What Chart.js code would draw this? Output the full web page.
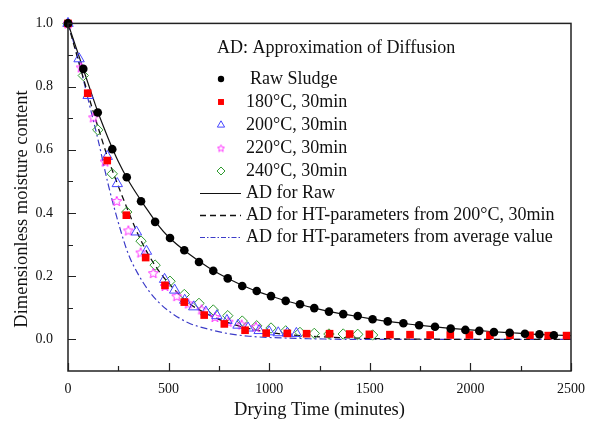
<!DOCTYPE html>
<html>
<head>
<meta charset="utf-8">
<script src="https://cdn.jsdelivr.net/npm/chart.js@4.4.1/dist/chart.umd.min.js"></script>
<style>
  html, body { margin: 0; padding: 0; background: #fff; }
  #wrap { width: 589px; height: 425px; }
</style>
</head>
<body>
<div id="wrap"><canvas id="dryChart"></canvas></div>
<script>
// Datos: tiempo de secado (min) y humedad adimensional
const rawTime = [0, 76, 148, 220, 292, 363, 433, 507, 578, 651, 722, 794, 866, 938, 1009, 1082, 1153, 1224, 1297, 1368, 1440, 1514, 1589, 1667, 1745, 1824, 1902, 1975, 2044, 2117, 2195, 2271, 2343, 2415];
const rawMoisture = [1.0, 0.856, 0.718, 0.602, 0.513, 0.437, 0.372, 0.321, 0.282, 0.245, 0.217, 0.193, 0.169, 0.153, 0.137, 0.122, 0.111, 0.099, 0.088, 0.080, 0.074, 0.064, 0.057, 0.051, 0.045, 0.040, 0.034, 0.030, 0.027, 0.023, 0.021, 0.018, 0.016, 0.013];

const time180 = [0, 98, 195, 290, 386, 482, 578, 677, 777, 880, 985, 1090, 1186, 1300, 1400, 1498, 1600, 1700, 1800, 1900, 1995, 2097, 2197, 2296, 2387, 2478];
const moisture180 = [1.0, 0.779, 0.566, 0.393, 0.259, 0.171, 0.118, 0.077, 0.049, 0.029, 0.020, 0.019, 0.018, 0.018, 0.017, 0.016, 0.015, 0.015, 0.014, 0.014, 0.014, 0.013, 0.013, 0.013, 0.012, 0.012];

const time200 = [0, 55, 100, 195, 245, 340, 390, 480, 530, 580, 625, 685, 740, 790, 845, 895, 950, 1000, 1045, 1090, 1135];
const moisture200 = [1.0, 0.888, 0.772, 0.579, 0.493, 0.340, 0.279, 0.190, 0.156, 0.124, 0.103, 0.087, 0.075, 0.060, 0.045, 0.036, 0.028, 0.024, 0.021, 0.020, 0.019];

const time220 = [0, 65, 126, 184, 242, 300, 361, 424, 482, 540, 598, 664, 730, 797, 863, 934];
const moisture220 = [1.0, 0.861, 0.703, 0.563, 0.438, 0.345, 0.275, 0.210, 0.169, 0.137, 0.114, 0.095, 0.071, 0.056, 0.047, 0.040];

const time240 = [0, 76, 148, 220, 292, 363, 433, 507, 578, 651, 722, 794, 866, 938, 1009, 1082, 1153, 1224, 1297, 1368, 1440, 1514];
const moisture240 = [1.0, 0.835, 0.663, 0.524, 0.403, 0.311, 0.235, 0.184, 0.142, 0.114, 0.093, 0.075, 0.058, 0.043, 0.036, 0.027, 0.022, 0.019, 0.017, 0.017, 0.016, 0.014];

// Curvas del modelo (AD)
const fitTime = [0, 50, 100, 150, 200, 250, 300, 350, 400, 450, 500, 600, 700, 800, 900, 1000, 1100, 1200, 1300, 1400, 1500, 1600, 1700, 1800, 1900, 2000, 2100, 2200, 2300, 2400, 2500];
const fitRaw = [1.0, 0.905, 0.81, 0.717, 0.636, 0.563, 0.503, 0.452, 0.405, 0.36, 0.324, 0.271, 0.227, 0.191, 0.162, 0.139, 0.119, 0.103, 0.088, 0.077, 0.066, 0.056, 0.048, 0.041, 0.035, 0.030, 0.025, 0.021, 0.017, 0.014, 0.012];
const fit200 = [1.0, 0.885, 0.775, 0.67, 0.571, 0.485, 0.405, 0.33, 0.268, 0.218, 0.178, 0.115, 0.078, 0.052, 0.034, 0.022, 0.015, 0.010, 0.007, 0.005, 0.003, 0.002, 0.001, 0.001, 0.0, 0.0, 0.0, 0.0, 0.0, 0.0, 0.0];
const fitAverage = [1.0, 0.89, 0.76, 0.63, 0.49, 0.37, 0.27, 0.205, 0.155, 0.118, 0.09, 0.052, 0.032, 0.018, 0.010, 0.006, 0.004, 0.002, 0.001, 0.0, 0.0, 0.0, 0.0, 0.0, 0.0, 0.0, 0.0, 0.0, 0.0, 0.0, 0.0];

const xTicks = [0, 500, 1000, 1500, 2000, 2500];
const yTicks = [0.0, 0.2, 0.4, 0.6, 0.8, 1.0];

const legendTitle = 'AD: Approximation of Diffusion';
const legendLabels = ['Raw Sludge', '180°C, 30min', '200°C, 30min', '220°C, 30min', '240°C, 30min',
  'AD for Raw', 'AD for HT-parameters from 200°C, 30min', 'AD for HT-parameters from average value'];

const serif = "'Liberation Serif', 'Times New Roman', serif";

function toPoints(xs, ys) {
  return xs.map((x, i) => ({ x: x, y: ys[i] }));
}

// estrella de 5 puntas hueca (Chart.js no la trae)
function starImage(size, color) {
  const c = document.createElement('canvas');
  c.width = size; c.height = size;
  const g = c.getContext('2d');
  const cx = size / 2, cy = size / 2 + 0.5, R = size / 2 - 0.8, r = R * 0.45;
  g.beginPath();
  for (let k = 0; k < 10; k++) {
    const a = -Math.PI / 2 + k * Math.PI / 5;
    const rr = k % 2 ? r : R;
    g.lineTo(cx + rr * Math.cos(a), cy + rr * Math.sin(a));
  }
  g.closePath();
  g.strokeStyle = color;
  g.lineWidth = 1;
  g.stroke();
  return c;
}

const RED = '#ff0000', BLUE = '#4646ff', MAGENTA = '#ff30ff', GREEN = '#2f9a2f', DASHDOT = '#3c3cc8';
const starBig = starImage(12, MAGENTA);
const starSmall = starImage(9, MAGENTA);

const datasets = [
  { data: toPoints(rawTime, rawMoisture), pointStyle: 'circle', pointRadius: 4.3,
    backgroundColor: '#000', borderColor: '#000', borderWidth: 0, clip: false },
  { data: toPoints(time180, moisture180), pointStyle: 'rect', pointRadius: 5.4,
    backgroundColor: RED, borderColor: RED, borderWidth: 0, clip: false },
  { data: toPoints(time200, moisture200), pointStyle: 'triangle', pointRadius: 6,
    backgroundColor: 'rgba(0,0,0,0)', borderColor: BLUE, borderWidth: 1, clip: false },
  { data: toPoints(time220, moisture220), pointStyle: starBig, pointRadius: 6,
    backgroundColor: 'rgba(0,0,0,0)', borderColor: MAGENTA, borderWidth: 1, clip: false },
  { data: toPoints(time240, moisture240), pointStyle: 'rectRot', pointRadius: 5.2,
    backgroundColor: 'rgba(0,0,0,0)', borderColor: GREEN, borderWidth: 1, clip: false },
  { data: toPoints(fitTime, fitRaw), showLine: true, pointRadius: 0, borderColor: '#111',
    borderWidth: 1.2, cubicInterpolationMode: 'monotone' },
  { data: toPoints(fitTime, fit200), showLine: true, pointRadius: 0, borderColor: '#111',
    borderWidth: 1.3, borderDash: [6, 4], cubicInterpolationMode: 'monotone' },
  { data: toPoints(fitTime, fitAverage), showLine: true, pointRadius: 0, borderColor: DASHDOT,
    borderWidth: 1.2, borderDash: [7, 3, 2, 3], cubicInterpolationMode: 'monotone' }
];

// marco y ticks hacia dentro
const frame = {
  id: 'frame',
  afterDraw(chart) {
    const { ctx, chartArea: a, scales: { x, y } } = chart;
    ctx.save();
    ctx.strokeStyle = '#222';
    ctx.lineWidth = 1.5;
    ctx.strokeRect(a.left, a.top, a.right - a.left, a.bottom - a.top);
    ctx.lineWidth = 1.2;
    ctx.beginPath();
    for (let v = 0; v <= 2500; v += 250) {
      const px = Math.round(x.getPixelForValue(v)) + 0.5;
      const len = v % 500 === 0 ? 8 : 5;
      ctx.moveTo(px, a.bottom);
      ctx.lineTo(px, a.bottom - len);
    }
    for (let k = 0; k <= 10; k++) {
      const py = Math.round(y.getPixelForValue(k / 10)) + 0.5;
      const len = k % 2 === 0 ? 8 : 5;
      ctx.moveTo(a.left, py);
      ctx.lineTo(a.left + len, py);
    }
    ctx.stroke();

    // título del eje Y
    ctx.fillStyle = '#111';
    ctx.font = '18.5px ' + serif;
    ctx.textAlign = 'center';
    ctx.textBaseline = 'middle';
    ctx.translate(22, 209);
    ctx.rotate(-Math.PI / 2);
    ctx.fillText('Dimensionless moisture content', 0, 0);
    ctx.restore();
  }
};

// leyenda dentro del área de trazado
const legendBox = {
  id: 'legendBox',
  afterDraw(chart) {
    const ctx = chart.ctx;
    const rows = [79, 102, 125, 148, 171, 193, 215, 237];
    ctx.save();
    ctx.fillStyle = '#111';
    ctx.font = '18px ' + serif;
    ctx.textBaseline = 'middle';
    ctx.textAlign = 'left';
    ctx.fillText(legendTitle, 217, 48);

    const mx = 221;
    const H = Chart.helpers;
    // marcadores
    ctx.fillStyle = '#000'; ctx.strokeStyle = '#000'; ctx.lineWidth = 0;
    H.drawPoint(ctx, { pointStyle: 'circle', radius: 3.2, borderWidth: 0, rotation: 0 }, mx, rows[0]);
    ctx.fillStyle = RED; ctx.strokeStyle = RED;
    H.drawPoint(ctx, { pointStyle: 'rect', radius: 4.2, borderWidth: 0, rotation: 0 }, mx, rows[1]);
    ctx.fillStyle = 'rgba(0,0,0,0)'; ctx.lineWidth = 1;
    ctx.strokeStyle = BLUE;
    H.drawPoint(ctx, { pointStyle: 'triangle', radius: 4.2, borderWidth: 1, rotation: 0 }, mx, rows[2]);
    ctx.drawImage(starSmall, mx - starSmall.width / 2, rows[3] - starSmall.height / 2);
    ctx.strokeStyle = GREEN;
    H.drawPoint(ctx, { pointStyle: 'rectRot', radius: 4, borderWidth: 1, rotation: 0 }, mx, rows[4]);

    // muestras de línea
    const lines = [
      { color: '#111', dash: [], width: 1.2 },
      { color: '#111', dash: [6, 4], width: 1.3 },
      { color: DASHDOT, dash: [5, 2, 1.5, 2], width: 1.1 }
    ];
    lines.forEach((l, i) => {
      ctx.beginPath();
      ctx.strokeStyle = l.color;
      ctx.lineWidth = l.width;
      ctx.setLineDash(l.dash);
      ctx.moveTo(200, rows[5 + i] + 0.5);
      ctx.lineTo(241, rows[5 + i] + 0.5);
      ctx.stroke();
    });
    ctx.setLineDash([]);

    ctx.fillStyle = '#111';
    legendLabels.forEach((txt, i) => {
      ctx.fillText(txt, i === 0 ? 250 : 246, rows[i]);
    });
    ctx.restore();
  }
};

const ctx = document.getElementById('dryChart').getContext('2d');
const dryChart = new Chart(ctx, {
  type: 'scatter',
  data: { datasets: datasets },
  options: {
    responsive: true,
    maintainAspectRatio: false,
    animation: false,
    layout: { padding: { top: 22, right: 18, left: 0, bottom: 0 } },
    plugins: { legend: { display: false }, tooltip: { enabled: false } },
    scales: {
      x: {
        type: 'linear', min: 0, max: 2500,
        grid: { display: false, drawTicks: false },
        border: { display: false },
        afterBuildTicks: s => { s.ticks = xTicks.map(v => ({ value: v })); },
        ticks: { padding: 10, color: '#111', maxRotation: 0, font: { family: serif, size: 14 },
                 callback: v => String(v) },
        title: { display: true, text: 'Drying Time (minutes)', color: '#111',
                 font: { family: serif, size: 18.5 }, padding: { top: 0, bottom: 4 } },
        afterFit: s => { s.height = 54; s.paddingLeft = 0; s.paddingRight = 0; }
      },
      y: {
        type: 'linear', min: -0.1, max: 1.0,
        grid: { display: false, drawTicks: false },
        border: { display: false },
        afterBuildTicks: s => { s.ticks = yTicks.map(v => ({ value: v })); },
        ticks: { padding: 15, color: '#111', font: { family: serif, size: 14 },
                 callback: v => Number(v).toFixed(1) },
        afterFit: s => { s.width = 68; }
      }
    }
  },
  plugins: [frame, legendBox]
});
</script>
</body>
</html>
